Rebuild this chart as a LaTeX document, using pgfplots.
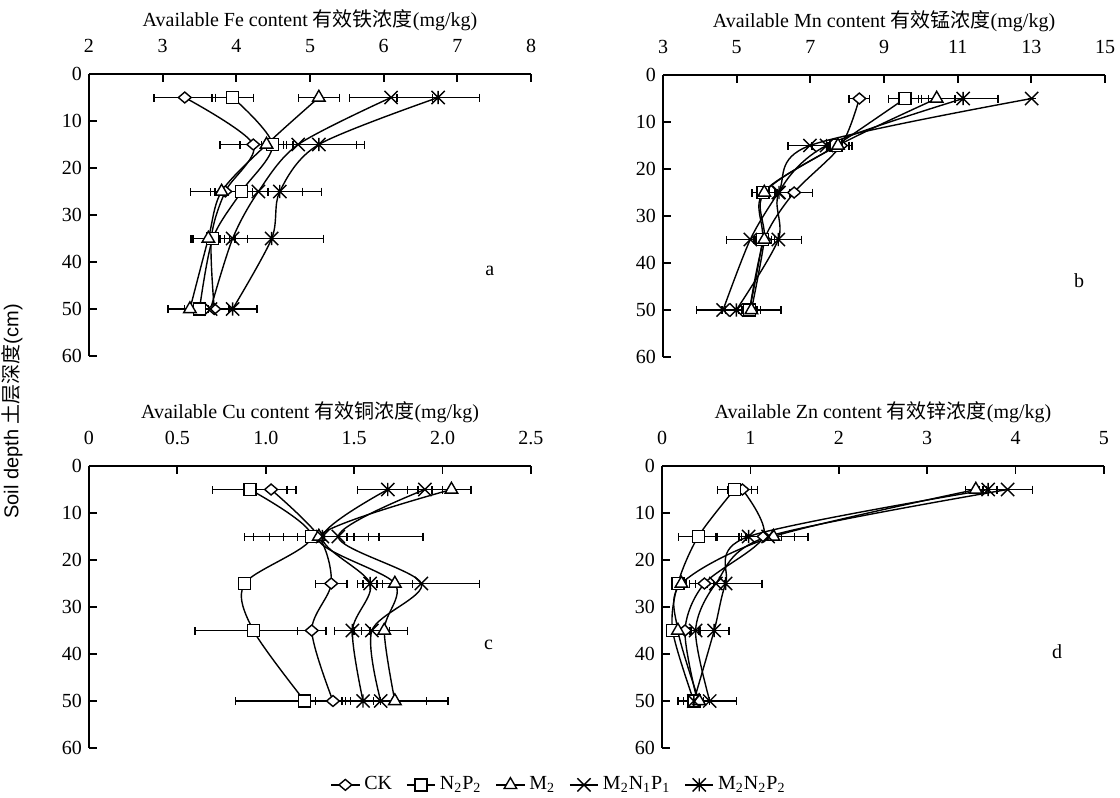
\documentclass[border=0pt]{standalone}
\usepackage{fontspec}
\setmainfont{Liberation Serif}
\newfontfamily\cjk{Noto Sans CJK SC}
\newfontfamily\sansfont{Liberation Sans}
\usepackage{pgfplots}
\pgfplotsset{compat=1.18}

% own marks: flat diamond, plain x, x with a vertical stroke
\pgfdeclareplotmark{dmd}{%
  \pgfpathmoveto{\pgfqpoint{0pt}{0.85\pgfplotmarksize}}%
  \pgfpathlineto{\pgfqpoint{\pgfplotmarksize}{0pt}}%
  \pgfpathlineto{\pgfqpoint{0pt}{-0.85\pgfplotmarksize}}%
  \pgfpathlineto{\pgfqpoint{-\pgfplotmarksize}{0pt}}%
  \pgfpathclose
  \pgfusepathqfillstroke}
\pgfdeclareplotmark{xx}{%
  \pgfpathmoveto{\pgfqpoint{-\pgfplotmarksize}{-\pgfplotmarksize}}%
  \pgfpathlineto{\pgfqpoint{\pgfplotmarksize}{\pgfplotmarksize}}%
  \pgfpathmoveto{\pgfqpoint{-\pgfplotmarksize}{\pgfplotmarksize}}%
  \pgfpathlineto{\pgfqpoint{\pgfplotmarksize}{-\pgfplotmarksize}}%
  \pgfusepathqstroke}
\pgfdeclareplotmark{xstar}{%
  \pgfpathmoveto{\pgfqpoint{-\pgfplotmarksize}{-\pgfplotmarksize}}%
  \pgfpathlineto{\pgfqpoint{\pgfplotmarksize}{\pgfplotmarksize}}%
  \pgfpathmoveto{\pgfqpoint{-\pgfplotmarksize}{\pgfplotmarksize}}%
  \pgfpathlineto{\pgfqpoint{\pgfplotmarksize}{-\pgfplotmarksize}}%
  \pgfpathmoveto{\pgfqpoint{0pt}{-\pgfplotmarksize}}%
  \pgfpathlineto{\pgfqpoint{0pt}{\pgfplotmarksize}}%
  \pgfusepathqstroke}

\newcommand{\fs}{\fontsize{10}{12}\selectfont}

\pgfplotsset{
  panel/.style={
    scale only axis, width=221pt, height=141pt,
    axis x line=top, axis y line=left,
    axis line style={-, line width=0.9pt},
    y dir=reverse, ymin=0, ymax=60, ytick={0,10,...,60},
    tick align=inside, major tick length=4pt,
    tick style={line width=0.9pt, black},
    /pgf/number format/assume math mode=true,
    tick label style={font=\fs},
    xticklabel style={yshift=7pt},
    title style={font=\fs, at={(0.5,1)}, anchor=center, yshift=21pt},
    clip=false,
    legend image code/.code={%
      \draw[mark repeat=2, mark phase=2, #1] plot coordinates {(0cm,0cm) (0.25cm,0cm) (0.5cm,0cm)};},
    every axis plot/.append style={black, line width=0.7pt, smooth, tension=0.5,
      mark options={solid, fill=white, line width=0.7pt},
      error bars/x dir=both, error bars/x explicit,
      error bars/error bar style={line width=0.7pt, solid},
      error bars/error mark options={line width=0.7pt, mark size=2pt, rotate=90}},
  },
  ck/.style={mark=dmd, mark size=3.2pt},
  np/.style={mark=square*, mark size=3pt},
  mm/.style={mark=triangle*, mark size=3.6pt},
  mnp/.style={mark=xx, mark size=3.3pt},
  mnnp/.style={mark=xstar, mark size=3.3pt},
}

\begin{document}
\begin{tikzpicture}
\useasboundingbox (0,0) rectangle (560pt,399pt);

% a: Fe
\begin{axis}[panel, at={(44.5pt,221pt)}, anchor=south west,
  xmin=2, xmax=8, xtick={2,3,...,8},
  title={Available Fe content {\cjk 有效铁浓度}(mg/kg)}]
  \addplot[ck] coordinates {(3.30,5) +- (0.42,0) (4.23,15) +- (0.45,0) (3.85,25) +- (0.2,0) (3.66,35) +- (0.25,0) (3.70,50) +- (0.2,0)};
  \addplot[np] coordinates {(3.95,5) +- (0.28,0) (4.49,15) +- (0.15,0) (4.07,25) +- (0.36,0) (3.68,35) +- (0.3,0) (3.50,50) +- (0.2,0)};
  \addplot[mm] coordinates {(5.12,5) +- (0.28,0) (4.41,15) +- (0.36,0) (3.80,25) +- (0.42,0) (3.62,35) +- (0.22,0) (3.37,50) +- (0.3,0)};
  \addplot[mnp] coordinates {(6.10,5) +- (0.56,0) (4.84,15) +- (0.79,0) (4.30,25) +- (0.6,0) (3.95,35) +- (0.2,0) (3.65,50) +- (0.3,0)};
  \addplot[mnnp] coordinates {(6.74,5) +- (0.56,0) (5.12,15) +- (0.62,0) (4.59,25) +- (0.57,0) (4.48,35) +- (0.7,0) (3.95,50) +- (0.33,0)};
  \node[font=\fs] at (axis cs:7.44,42) {a};
\end{axis}

% b: Mn
\begin{axis}[panel, at={(331.5pt,220.5pt)}, anchor=south west,
  xmin=3, xmax=15, xtick={3,5,...,15},
  title={Available Mn content {\cjk 有效锰浓度}(mg/kg)}]
  \addplot[ck] coordinates {(8.33,5) +- (0.28,0) (7.83,15) +- (0.3,0) (6.56,25) +- (0.5,0) (5.75,35) +- (0.2,0) (5.35,50) +- (0.2,0)};
  \addplot[np] coordinates {(9.57,5) +- (0.45,0) (7.70,15) +- (0.2,0) (5.72,25) +- (0.3,0) (5.70,35) +- (0.25,0) (5.35,50) +- (0.3,0)};
  \addplot[mm] coordinates {(10.43,5) +- (0.5,0) (7.75,15) +- (0.3,0) (5.75,25) +- (0.35,0) (5.75,35) +- (0.2,0) (5.40,50) +- (0.8,0)};
  \addplot[mnp] coordinates {(13.01,5) +- (0,0) (6.99,15) +- (0.6,0) (6.13,25) +- (0.3,0) (5.37,35) +- (0.65,0) (4.63,50) +- (0.72,0)};
  \addplot[mnnp] coordinates {(11.15,5) +- (0.95,0) (7.44,15) +- (0.4,0) (6.15,25) +- (0.3,0) (6.13,35) +- (0.63,0) (4.99,50) +- (0.3,0)};
  \node[font=\fs] at (axis cs:14.3,43.7) {b};
\end{axis}

% c: Cu
\begin{axis}[panel, at={(44.5pt,25pt)}, anchor=south west,
  xmin=0, xmax=2.5, xtick={0,0.5,...,2.5}, xticklabels={0,0.5,1.0,1.5,2.0,2.5},
  title={Available Cu content {\cjk 有效铜浓度}(mg/kg)},
  legend columns=5,
  legend style={draw=none, fill=none, at={(1.0656,-0.1307)}, anchor=center,
    font=\fs,
    /tikz/every even column/.append style={column sep=5pt}}]
  \addplot[ck] coordinates {(1.03,5) +- (0.14,0) (1.30,15) +- (0.28,0) (1.37,25) +- (0.09,0) (1.26,35) +- (0.08,0) (1.38,50) +- (0.1,0)};
  \addlegendentry{CK}
  \addplot[np] coordinates {(0.91,5) +- (0.21,0) (1.26,15) +- (0.38,0) (0.88,25) +- (0.03,0) (0.93,35) +- (0.33,0) (1.22,50) +- (0.39,0)};
  \addlegendentry{N\textsubscript{2}P\textsubscript{2}}
  \addplot[mm] coordinates {(2.05,5) +- (0.11,0) (1.30,15) +- (0.2,0) (1.73,25) +- (0.1,0) (1.67,35) +- (0.13,0) (1.73,50) +- (0.3,0)};
  \addlegendentry{M\textsubscript{2}}
  \addplot[mnp] coordinates {(1.90,5) +- (0.1,0) (1.41,15) +- (0.48,0) (1.88,25) +- (0.33,0) (1.60,35) +- (0.1,0) (1.65,50) +- (0.26,0)};
  \addlegendentry{M\textsubscript{2}N\textsubscript{1}P\textsubscript{1}}
  \addplot[mnnp] coordinates {(1.69,5) +- (0.17,0) (1.32,15) +- (0.14,0) (1.59,25) +- (0.07,0) (1.49,35) +- (0.1,0) (1.55,50) +- (0.1,0)};
  \addlegendentry{M\textsubscript{2}N\textsubscript{2}P\textsubscript{2}}
  \node[font=\fs] at (axis cs:2.26,38) {c};
  \node[font=\sansfont\fs, rotate=90] at (axis description cs:-0.174,1.194) {Soil depth {\cjk 土层深度}(cm)};
\end{axis}

% d: Zn
\begin{axis}[panel, at={(331pt,25pt)}, anchor=south west,
  xmin=0, xmax=5, xtick={0,1,...,5},
  title={Available Zn content {\cjk 有效锌浓度}(mg/kg)}]
  \addplot[ck] coordinates {(0.91,5) +- (0.17,0) (1.15,15) +- (0.2,0) (0.48,25) +- (0.1,0) (0.26,35) +- (0.05,0) (0.40,50) +- (0.05,0)};
  \addplot[np] coordinates {(0.82,5) +- (0.19,0) (0.41,15) +- (0.22,0) (0.18,25) +- (0.04,0) (0.12,35) +- (0.04,0) (0.36,50) +- (0.05,0)};
  \addplot[mm] coordinates {(3.55,5) +- (0.12,0) (1.26,15) +- (0.39,0) (0.22,25) +- (0.05,0) (0.18,35) +- (0.05,0) (0.42,50) +- (0.05,0)};
  \addplot[mnp] coordinates {(3.91,5) +- (0.28,0) (1.20,15) +- (0.3,0) (0.61,25) +- (0.1,0) (0.38,35) +- (0.05,0) (0.54,50) +- (0.3,0)};
  \addplot[mnnp] coordinates {(3.69,5) +- (0.1,0) (0.98,15) +- (0.37,0) (0.72,25) +- (0.41,0) (0.59,35) +- (0.17,0) (0.36,50) +- (0.18,0)};
  \node[font=\fs] at (axis cs:4.47,39.5) {d};
\end{axis}
\end{tikzpicture}
\end{document}
